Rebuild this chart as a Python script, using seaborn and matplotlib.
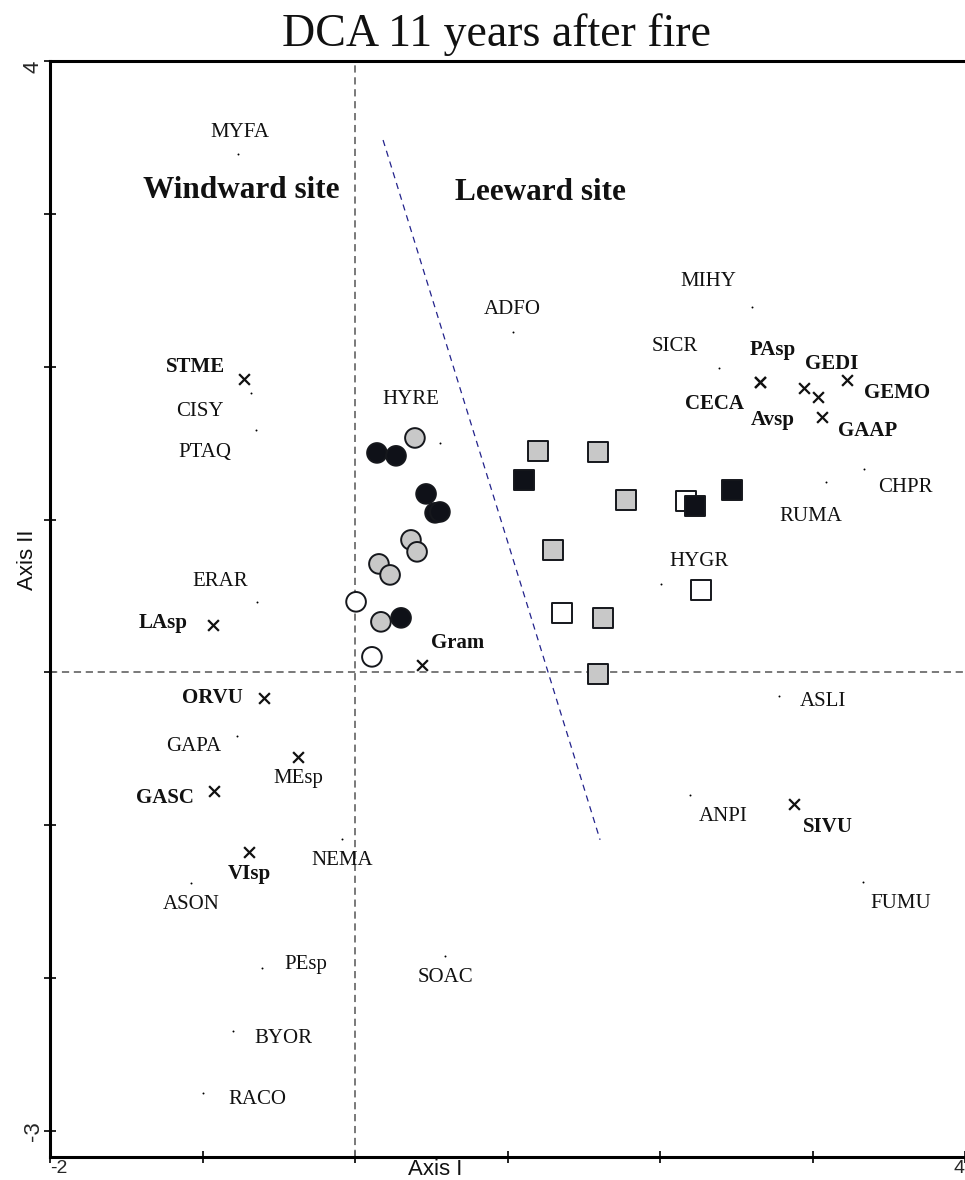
import matplotlib
matplotlib.use("Agg")
import matplotlib.pyplot as plt
import seaborn as sns
import pandas as pd

# ---------------- data ----------------
# sample scores (circles = windward, squares = leeward)
circ_black_x = [0.144, 0.269, 0.466, 0.525, 0.557, 0.302]
circ_black_y = [1.436, 1.417, 1.168, 1.044, 1.050, 0.357]
circ_grey_x = [0.393, 0.367, 0.407, 0.157, 0.230, 0.170]
circ_grey_y = [1.534, 0.867, 0.789, 0.710, 0.638, 0.331]
circ_white_x = [0.007, 0.111]
circ_white_y = [0.462, 0.102]

sq_grey_x = [1.200, 1.593, 1.777, 1.298, 1.626, 1.593]
sq_grey_y = [1.449, 1.443, 1.129, 0.802, 0.357, -0.009]
sq_black_x = [1.108, 2.472, 2.230]
sq_black_y = [1.260, 1.194, 1.090]
sq_white_x = [2.170, 2.269, 1.357]
sq_white_y = [1.122, 0.540, 0.390]

# species scores
sp_names = ["MYFA", "ADFO", "MIHY", "SICR", "HYRE", "CISY", "PTAQ", "ERAR",
            "GAPA", "NEMA", "ASON", "PEsp", "SOAC", "BYOR", "RACO", "HYGR",
            "RUMA", "CHPR", "ASLI", "ANPI", "FUMU",
            "STME", "LAsp", "Gram", "ORVU", "MEsp", "GASC", "VIsp", "PAsp",
            "CECA", "GEDI", "Avsp", "GEMO", "GAAP", "SIVU"]
sp_x = [-0.767, 1.036, 2.603, 2.387, 0.557, -0.682, -0.649, -0.643,
        -0.774, -0.085, -1.075, -0.610, 0.590, -0.800, -0.997, 2.007,
        3.089, 3.338, 2.780, 2.197, 3.331,
        -0.728, -0.931, 0.439, -0.597, -0.374, -0.925, -0.695, 2.656,
        2.656, 2.944, 3.036, 3.226, 3.062, 2.879]
sp_y = [3.392, 2.228, 2.391, 1.992, 1.502, 1.829, 1.587, 0.462,
        -0.415, -1.088, -1.376, -1.932, -1.853, -2.344, -2.750, 0.579,
        1.247, 1.332, -0.153, -0.800, -1.370,
        1.920, 0.311, 0.050, -0.166, -0.552, -0.774, -1.173, 1.901,
        1.901, 1.861, 1.802, 1.914, 1.672, -0.859]
sp_cross = [False] * 21 + [True] * 14
sp_bold = [False] * 21 + [True, True, True, True, False, True, True, True,
                          True, True, True, True, True, True]

site_labels = ["Windward site", "Leeward site"]
site_x = [-0.748, 1.213]
site_y = [3.156, 3.143]

divider_x = [0.184, 1.607]
divider_y = [3.483, -1.095]

x_ticks = [-2, -1, 0, 1, 2, 3, 4]
x_ticklabels = ["-2", "", "", "", "", "", "4"]
y_ticks = [-3, -2, -1, 0, 1, 2, 3, 4]
y_ticklabels = ["-3", "", "", "", "", "", "", "4"]

# ---------------- layout (label offsets in pixels, y up) ----------------
label_offsets = [(2, 21), (-1, 22), (-44, 25), (-44, 21), (-29, 43), (-51, -19),
                 (-51, -23), (-37, 20), (-43, -11), (0, -22), (0, -22), (44, 3),
                 (0, -22), (50, -8), (54, -7), (38, 22), (-15, -35), (41, -19),
                 (44, -6), (33, -22), (38, -22),
                 (-48, 12), (-50, 2), (36, 22), (-52, 0), (0, -22), (-49, -7),
                 (0, -22), (13, 32), (-46, -22), (28, 24), (-45, -23), (50, -13),
                 (46, -14), (34, -23)]

samples = pd.DataFrame({
    "x": sq_white_x + circ_white_x + sq_grey_x + circ_grey_x + sq_black_x + circ_black_x,
    "y": sq_white_y + circ_white_y + sq_grey_y + circ_grey_y + sq_black_y + circ_black_y,
    "fill": (["white"] * len(sq_white_x) + ["white"] * len(circ_white_x)
             + ["grey"] * len(sq_grey_x) + ["grey"] * len(circ_grey_x)
             + ["black"] * len(sq_black_x) + ["black"] * len(circ_black_x)),
    "site": (["leeward"] * len(sq_white_x) + ["windward"] * len(circ_white_x)
             + ["leeward"] * len(sq_grey_x) + ["windward"] * len(circ_grey_x)
             + ["leeward"] * len(sq_black_x) + ["windward"] * len(circ_black_x)),
})
species = pd.DataFrame({"name": sp_names, "x": sp_x, "y": sp_y,
                        "cross": sp_cross, "bold": sp_bold})

# ---------------- plotting ----------------
sns.set_theme(style="white")
plt.rcParams["font.family"] = ["Liberation Serif", "DejaVu Serif"]

fig = plt.figure(figsize=(9.65, 11.8), dpi=100)
ax = fig.add_axes([50 / 965, 23 / 1180, 915 / 965, 1096 / 1180])
ax.set_xlim(-2, 4)
ax.set_ylim(-3.17, 4.0)

ax.axhline(0, color="#6e6e6e", lw=1.3, ls=(0, (4, 2.6)), zorder=1)
ax.axvline(0, color="#6e6e6e", lw=1.3, ls=(0, (4, 2.6)), zorder=1)
ax.plot(divider_x, divider_y, color="#23238c", lw=0.9, ls=(0, (5, 4)), zorder=1)

dots = species[~species["cross"]]
crosses = species[species["cross"]]
sns.scatterplot(data=dots, x="x", y="y", ax=ax, color="black", s=2,
                marker="o", linewidth=0, legend=False, zorder=2)
sns.scatterplot(data=crosses, x="x", y="y", ax=ax, color="#111111", s=60,
                marker="x", linewidth=1.6, legend=False, zorder=3)

sns.scatterplot(data=samples, x="x", y="y", hue="fill", style="site",
                palette={"white": "#ffffff", "grey": "#c8c8c8", "black": "#0f1118"},
                markers={"windward": "o", "leeward": "s"},
                s=200, edgecolor="#15171c", linewidth=1.4, legend=False,
                ax=ax, zorder=4)

for (name, x, y, bold), (dx, dy) in zip(
        species[["name", "x", "y", "bold"]].itertuples(index=False), label_offsets):
    ax.annotate(name, (x, y), xytext=(dx, dy), textcoords="offset pixels",
                ha="center", va="center", fontsize=15,
                fontweight="bold" if bold else "normal", color="#111111",
                zorder=5)

for t, x, y in zip(site_labels, site_x, site_y):
    ax.text(x, y, t, ha="center", va="center", fontsize=22.5, fontweight="bold",
            color="#111111")

ax.set_title("DCA 11 years after fire", fontsize=33, x=0.4885, pad=11,
             color="#111111")

sans = ["Liberation Sans", "DejaVu Sans"]
ax.set_xticks(x_ticks)
ax.set_xticklabels(x_ticklabels, family=sans, fontsize=14)
ax.set_yticks(y_ticks)
ax.set_yticklabels(y_ticklabels, family=sans, fontsize=16, rotation=90,
                   va="center")
ax.get_xticklabels()[0].set_ha("left")
ax.get_xticklabels()[-1].set_ha("right")
ax.get_yticklabels()[-1].set_va("top")
ax.tick_params(axis="both", direction="inout", length=9, width=1.2,
               color="black", left=True, bottom=True)
ax.tick_params(axis="x", pad=-2.5)
ax.tick_params(axis="y", pad=0)

ax.set_xlabel("Axis I", family=sans, fontsize=16, color="#111111")
ax.set_ylabel("Axis II", family=sans, fontsize=16, color="#111111")
ax.xaxis.label.set_va("baseline")
ax.xaxis.set_label_coords(0.421, -0.0164)
ax.yaxis.set_label_coords(-0.0135, 0.545)

for side in ["left", "bottom", "top"]:
    ax.spines[side].set_visible(True)
    ax.spines[side].set_color("black")
    ax.spines[side].set_linewidth(2.2)
ax.spines["right"].set_visible(False)
ax.grid(False)

fig.savefig("out.png", dpi=100)
